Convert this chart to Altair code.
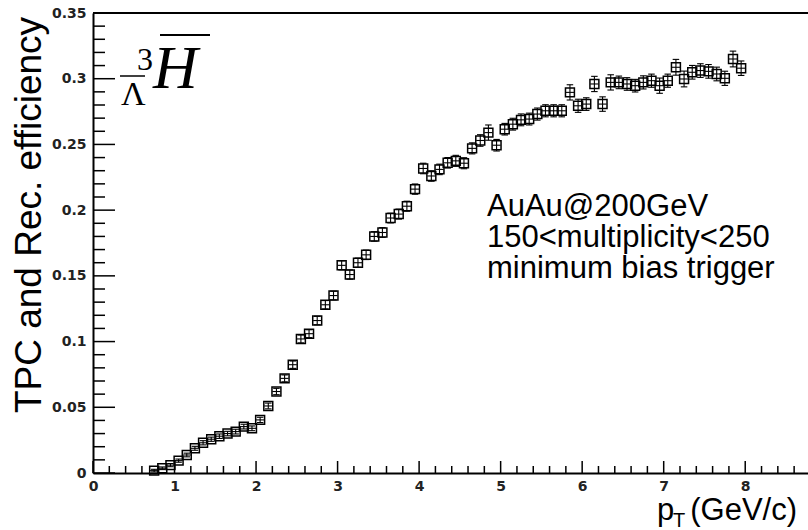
import altair as alt
import pandas as pd

# ---------------- data ----------------
pt = [0.75, 0.85, 0.95, 1.05, 1.15, 1.25, 1.35, 1.45, 1.55, 1.65,
      1.75, 1.85, 1.95, 2.05, 2.15, 2.25, 2.35, 2.45, 2.55, 2.65,
      2.75, 2.85, 2.95, 3.05, 3.15, 3.25, 3.35, 3.45, 3.55, 3.65,
      3.75, 3.85, 3.95, 4.05, 4.15, 4.25, 4.35, 4.45, 4.55, 4.65,
      4.75, 4.85, 4.95, 5.05, 5.15, 5.25, 5.35, 5.45, 5.55, 5.65,
      5.75, 5.85, 5.95, 6.05, 6.15, 6.25, 6.35, 6.45, 6.55, 6.65,
      6.75, 6.85, 6.95, 7.05, 7.15, 7.25, 7.35, 7.45, 7.55, 7.65,
      7.75, 7.85, 7.95]
eff = [0.0018, 0.0036, 0.0060, 0.0094, 0.0137, 0.0188, 0.0230, 0.0257, 0.0280, 0.0300,
       0.0315, 0.0353, 0.0340, 0.0404, 0.0510, 0.0620, 0.0720, 0.0824, 0.1020, 0.1060,
       0.1160, 0.1280, 0.1350, 0.1580, 0.1510, 0.1600, 0.1660, 0.1800, 0.1830, 0.1940,
       0.1970, 0.2030, 0.2160, 0.2317, 0.2260, 0.2310, 0.2360, 0.2375, 0.2357, 0.2470,
       0.2530, 0.2590, 0.2494, 0.2616, 0.2654, 0.2687, 0.2693, 0.2731, 0.2756, 0.2756,
       0.2756, 0.2896, 0.2794, 0.2807, 0.2960, 0.2807, 0.2972, 0.2972, 0.2960, 0.2947,
       0.2972, 0.2985, 0.2947, 0.2985, 0.3087, 0.2998, 0.3049, 0.3062, 0.3056, 0.3036,
       0.3003, 0.3150, 0.3080]
err = [0.0010, 0.0010, 0.0012, 0.0012, 0.0014, 0.0015, 0.0016, 0.0016, 0.0017, 0.0017,
       0.0018, 0.0018, 0.0018, 0.0020, 0.0022, 0.0024, 0.0026, 0.0028, 0.0030, 0.0030,
       0.0032, 0.0032, 0.0033, 0.0035, 0.0035, 0.0035, 0.0036, 0.0036, 0.0037, 0.0037,
       0.0038, 0.0038, 0.0039, 0.0040, 0.0040, 0.0040, 0.0040, 0.0042, 0.0042, 0.0042,
       0.0044, 0.0058, 0.0044, 0.0044, 0.0045, 0.0045, 0.0045, 0.0046, 0.0046, 0.0046,
       0.0046, 0.0058, 0.0050, 0.0048, 0.0058, 0.0055, 0.0058, 0.0048, 0.0048, 0.0048,
       0.0050, 0.0050, 0.0058, 0.0050, 0.0060, 0.0060, 0.0052, 0.0052, 0.0052, 0.0052,
       0.0054, 0.0060, 0.0055]
bin_half = 0.05

y_major = [0.0, 0.05, 0.10, 0.15, 0.20, 0.25, 0.30, 0.35]
y_minor = [0.01, 0.02, 0.03, 0.04, 0.06, 0.07, 0.08, 0.09, 0.11, 0.12, 0.13, 0.14,
           0.16, 0.17, 0.18, 0.19, 0.21, 0.22, 0.23, 0.24, 0.26, 0.27, 0.28, 0.29,
           0.31, 0.32, 0.33, 0.34]
x_major = [0, 1, 2, 3, 4, 5, 6, 7, 8]
x_minor = [0.2, 0.4, 0.6, 0.8, 1.2, 1.4, 1.6, 1.8, 2.2, 2.4, 2.6, 2.8, 3.2, 3.4, 3.6, 3.8,
           4.2, 4.4, 4.6, 4.8, 5.2, 5.4, 5.6, 5.8, 6.2, 6.4, 6.6, 6.8, 7.2, 7.4, 7.6, 7.8,
           8.2, 8.4, 8.6]

x_title = "p"
x_title_sub = "T"
x_title_rest = "(GeV/c)"
y_title = "TPC and Rec. efficiency"
notes = ["AuAu@200GeV", "150<multiplicity<250", "minimum bias trigger"]

# ---------------- layout ----------------
W, H = 715, 460
SANS = "Liberation Sans"
SERIF = "Liberation Serif"

df = pd.DataFrame({"pt": pt, "eff": eff, "err": err})
df["xlo"] = df["pt"] - bin_half
df["xhi"] = df["pt"] + bin_half
df["ylo"] = df["eff"] - df["err"]
df["yhi"] = df["eff"] + df["err"]
df["clo"] = df["pt"] - 0.04
df["chi"] = df["pt"] + 0.04

xs = alt.Scale(domain=[0, 8.77], nice=False, zero=False)
ys = alt.Scale(domain=[0, 0.35], nice=False, zero=False)

x_axis = alt.Axis(values=x_major, format="~g", tickSize=0, labelPadding=6,
                  labelFont="DejaVu Sans", labelFontSize=14, labelFontWeight="bold",
                  labelColor="#222222",
                  domainColor="black", domainWidth=2, grid=False, title=None,
                  labelFlush=False)
y_axis = alt.Axis(values=y_major, format="~g", tickSize=0, labelPadding=7,
                  labelFont="DejaVu Sans", labelFontSize=14, labelFontWeight="bold",
                  labelColor="#222222",
                  domainColor="black", domainWidth=2, grid=False, title=None,
                  labelFlush=False)


def X(field):
    return alt.X(field, type="quantitative", scale=xs, axis=x_axis)


def Y(field):
    return alt.Y(field, type="quantitative", scale=ys, axis=y_axis)


base = alt.Chart(df)

markers = base.mark_point(shape="square", filled=False, size=80, color="black",
                          strokeWidth=1.5, opacity=1).encode(x=X("pt"), y=Y("eff"))
xerr = base.mark_rule(color="black", strokeWidth=1.1).encode(
    x=X("xlo"), x2="xhi:Q", y=Y("eff"))
yerr = base.mark_rule(color="black", strokeWidth=1.1).encode(
    x=X("pt"), y=Y("ylo"), y2="yhi:Q")
cap_top = base.mark_rule(color="black", strokeWidth=1.1).encode(
    x=X("clo"), x2="chi:Q", y=Y("yhi"))
cap_bot = base.mark_rule(color="black", strokeWidth=1.1).encode(
    x=X("clo"), x2="chi:Q", y=Y("ylo"))

# inward ticks
yM = alt.Chart(pd.DataFrame({"v": y_major})).mark_rule(color="black", strokeWidth=1.5).encode(
    y=Y("v"), x=alt.value(0), x2=alt.value(22))
ym = alt.Chart(pd.DataFrame({"v": y_minor})).mark_rule(color="black", strokeWidth=1.5).encode(
    y=Y("v"), x=alt.value(0), x2=alt.value(12))
xM = alt.Chart(pd.DataFrame({"v": x_major})).mark_rule(color="black", strokeWidth=1.5).encode(
    x=X("v"), y=alt.value(H), y2=alt.value(H - 12))
xm = alt.Chart(pd.DataFrame({"v": x_minor})).mark_rule(color="black", strokeWidth=1.5).encode(
    x=X("v"), y=alt.value(H), y2=alt.value(H - 7))

# top frame line
one = pd.DataFrame({"k": [0]})
top_line = alt.Chart(one).mark_rule(color="black", strokeWidth=2).encode(
    x=alt.value(0), x2=alt.value(W + 10), y=alt.value(0))

# axis titles
ytitle = alt.Chart(one).mark_text(font=SANS, fontSize=37, angle=270, align="center",
                                  baseline="alphabetic", color="black").encode(
    x=alt.value(-52), y=alt.value(202), text=alt.value(y_title))
xt1 = alt.Chart(one).mark_text(font=SANS, fontSize=31, align="left",
                               baseline="alphabetic", color="black").encode(
    x=alt.value(564), y=alt.value(507), text=alt.value(x_title))
xt2 = alt.Chart(one).mark_text(font=SANS, fontSize=20, align="left",
                               baseline="alphabetic", color="black").encode(
    x=alt.value(580), y=alt.value(514), text=alt.value(x_title_sub))
xt3 = alt.Chart(one).mark_text(font=SANS, fontSize=31, align="right",
                               baseline="alphabetic", color="black").encode(
    x=alt.value(704), y=alt.value(507), text=alt.value(x_title_rest))

# particle label  (anti-Lambda hyper-antihydrogen-3)
lab3 = alt.Chart(one).mark_text(font=SERIF, fontSize=32, align="left",
                                baseline="alphabetic", color="black").encode(
    x=alt.value(44), y=alt.value(57), text=alt.value("3"))
labL = alt.Chart(one).mark_text(font=SERIF, fontSize=34, align="left",
                                baseline="alphabetic", color="black").encode(
    x=alt.value(28), y=alt.value(92), text=alt.value("Λ"))
labLbar = alt.Chart(one).mark_rule(color="black", strokeWidth=1.5).encode(
    x=alt.value(27), x2=alt.value(52), y=alt.value(63))
labH = alt.Chart(one).mark_text(font=SERIF, fontSize=62, fontStyle="italic", align="left",
                                baseline="alphabetic", color="black").encode(
    x=alt.value(60), y=alt.value(75), text=alt.value("H"))
labHbar = alt.Chart(one).mark_rule(color="black", strokeWidth=2).encode(
    x=alt.value(67), x2=alt.value(117), y=alt.value(22))

note = alt.Chart(one).mark_text(font=SANS, fontSize=31, align="left", baseline="alphabetic",
                                color="black", lineBreak="\n", lineHeight=31).encode(
    x=alt.value(394), y=alt.value(203), text=alt.value("\n".join(notes)))

chart = alt.layer(
    markers, xerr, yerr, cap_top, cap_bot,
    yM, ym, xM, xm, top_line,
    ytitle, xt1, xt2, xt3,
    lab3, labL, labLbar, labH, labHbar, note,
).properties(
    width=W, height=H,
    autosize=alt.AutoSizeParams(type="none"),
    padding={"left": 93, "top": 13, "right": 0, "bottom": 57},
    background="white",
).configure_view(stroke=None)

chart.save("out.html", embed_options={"renderer": "svg", "actions": False})
